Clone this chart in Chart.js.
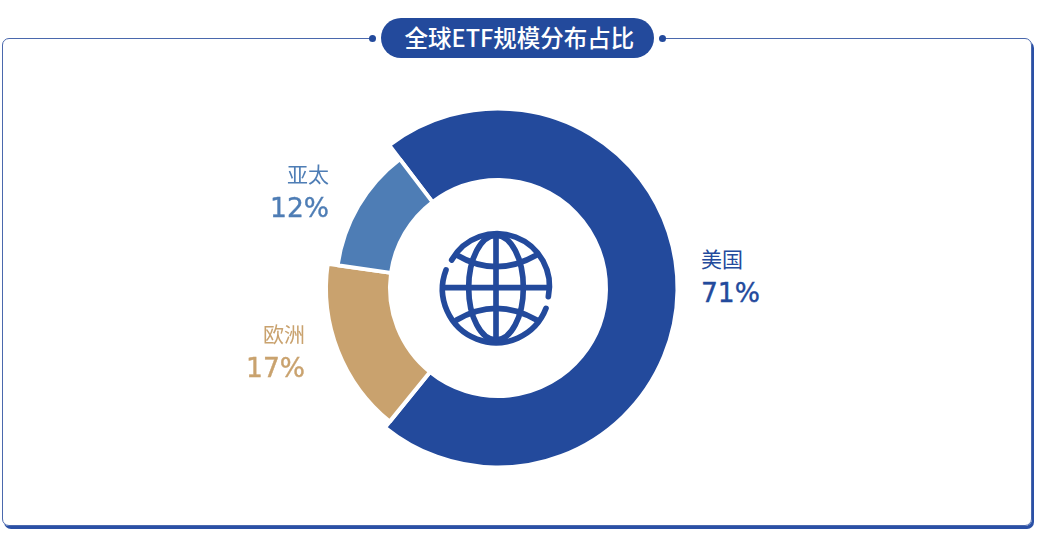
<!DOCTYPE html>
<html lang="zh-CN">
<head>
<meta charset="UTF-8">
<title>全球ETF规模分布占比</title>
<script src="https://cdn.jsdelivr.net/npm/chart.js"></script>
<style>
    html, body { margin: 0; padding: 0; background: #fff; }
    body { width: 1047px; height: 535px; position: relative; overflow: hidden; font-family: 'Noto Sans CJK SC', 'Noto Sans', sans-serif; }
    .card {
        position: absolute; left: 2px; top: 38px; width: 1028px; height: 486px;
        border: 1.5px solid #4a68ad; border-radius: 7px;
        box-shadow: 2px 3px 0 #2a50a6;
    }
    .mask { position: absolute; left: 370px; top: 30px; width: 293px; height: 16px; background: #fff; }
    .dot { position: absolute; top: 34.5px; width: 7px; height: 7px; border-radius: 50%; background: #234a9c; }
    .title {
        position: absolute; left: 381px; top: 18px; width: 269px; padding-left: 4px; height: 40px; border-radius: 20px;
        background: #234a9c; color: #fff; font-size: 23.5px; font-weight: 500; line-height: 39px; text-align: center;
    }
    #chartBox { position: absolute; left: 297.5px; top: 87.5px; width: 400px; height: 400px; }
    .label { position: absolute; white-space: nowrap; }
    .label .name { font-size: 21px; line-height: 28px; display: block; }
    .label .pct { font-family: 'DejaVu Sans', sans-serif; font-size: 26.5px; line-height: 36px; margin-top: 3px; display: block; -webkit-text-stroke: 0.4px currentColor; }
    #globe { position: absolute; left: 420px; top: 210px; width: 150px; height: 150px; }
</style>
</head>
<body>
    <div class="card"></div>
    <div class="mask"></div>
    <div class="dot" style="left:368.5px"></div>
    <div class="dot" style="left:658.5px"></div>
    <div class="title">全球ETF规模分布占比</div>

    <div id="chartBox"><canvas id="etfChart" width="400" height="400"></canvas></div>

    <svg id="globe" viewBox="0 0 450 450" fill="none" stroke="#234a9c" stroke-width="17" stroke-linecap="round">
        <path d="M78,180 A157,157 0 0 0 378,295" />
        <path d="M385,260 A157,157 0 0 0 95,150" />
        <ellipse cx="228" cy="233" rx="82" ry="157" />
        <path d="M228,76 V390" />
        <path d="M71,233 H385" />
        <path d="M110,135 Q228,205 350,135" />
        <path d="M110,330 Q228,260 350,330" />
    </svg>

    <div id="labels"></div>

<script>
    const categories = ['美国', '欧洲', '亚太'];
    // 图上标注的百分比
    const shares = [71, 17, 12];
    // 从图上量出的扇区大小，与标注略有出入
    const sliceSizes = [71.2, 16.4, 12.4];
    const sliceColors = ['#234a9c', '#c9a26e', '#4e7db5'];
    // 含 2px 白边
    const outerRadii = [179.5, 172, 162];
    const innerRadius = 108;

    // 标签位置 (x 为左/右对齐的基准)
    const labelPos = [
        { left: 701, top: 244 },
        { right: 1047 - 305, top: 319 },
        { right: 1047 - 329, top: 159 }
    ];

    const labelsBox = document.getElementById('labels');
    categories.forEach((name, i) => {
        const el = document.createElement('div');
        el.className = 'label';
        el.style.color = sliceColors[i];
        el.style.top = labelPos[i].top + 'px';
        if (labelPos[i].left !== undefined) {
            el.style.left = labelPos[i].left + 'px';
        } else {
            el.style.right = labelPos[i].right + 'px';
            el.style.textAlign = 'right';
        }
        el.innerHTML = `<span class="name">${name}</span><span class="pct">${shares[i]}%</span>`;
        labelsBox.appendChild(el);
    });

    // 每个扇区半径不同，更新后改写 arc 的半径
    const radiusPlugin = {
        id: 'sliceRadius',
        afterDatasetsUpdate(chart) {
            chart.getDatasetMeta(0).data.forEach((arc, i) => {
                arc.outerRadius = outerRadii[i];
                arc.innerRadius = innerRadius;
            });
        }
    };

    new Chart(document.getElementById('etfChart'), {
        type: 'doughnut',
        data: {
            labels: categories,
            datasets: [{
                data: sliceSizes,
                backgroundColor: sliceColors,
                borderColor: '#fff',
                borderWidth: 4
            }]
        },
        options: {
            responsive: false,
            animation: false,
            rotation: -37.3,
            cutout: innerRadius,
            plugins: { legend: { display: false }, tooltip: { enabled: false } }
        },
        plugins: [radiusPlugin]
    });
</script>
</body>
</html>
